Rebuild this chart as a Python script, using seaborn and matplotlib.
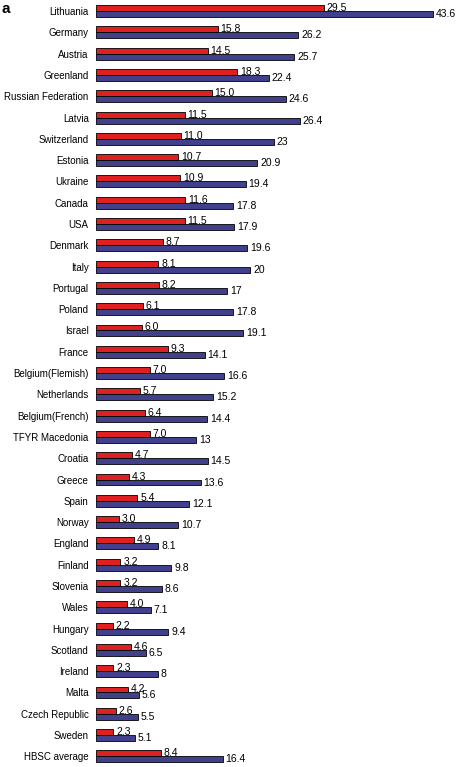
import numpy as np
import pandas as pd
import matplotlib
matplotlib.use("Agg")
import matplotlib.pyplot as plt
import seaborn as sns

countries = ["Lithuania", "Germany", "Austria", "Greenland", "Russian Federation", "Latvia",
             "Switzerland", "Estonia", "Ukraine", "Canada", "USA", "Denmark", "Italy",
             "Portugal", "Poland", "Israel", "France", "Belgium(Flemish)", "Netherlands",
             "Belgium(French)", "TFYR Macedonia", "Croatia", "Greece", "Spain", "Norway",
             "England", "Finland", "Slovenia", "Wales", "Hungary", "Scotland", "Ireland",
             "Malta", "Czech Republic", "Sweden", "HBSC average"]
red_vals = [29.5, 15.8, 14.5, 18.3, 15.0, 11.5, 11.0, 10.7, 10.9, 11.6, 11.5, 8.7, 8.1,
            8.2, 6.1, 6.0, 9.3, 7.0, 5.7, 6.4, 7.0, 4.7, 4.3, 5.4, 3.0, 4.9, 3.2, 3.2,
            4.0, 2.2, 4.6, 2.3, 4.2, 2.6, 2.3, 8.4]
blue_vals = [43.6, 26.2, 25.7, 22.4, 24.6, 26.4, 23, 20.9, 19.4, 17.8, 17.9, 19.6, 20,
             17, 17.8, 19.1, 14.1, 16.6, 15.2, 14.4, 13, 14.5, 13.6, 12.1, 10.7, 8.1,
             9.8, 8.6, 7.1, 9.4, 6.5, 8, 5.6, 5.5, 5.1, 16.4]

df = pd.DataFrame({
    "country": countries * 2,
    "value": red_vals + blue_vals,
    "series": ["s1"] * len(countries) + ["s2"] * len(countries),
})

plt.rcParams["font.family"] = ["Liberation Sans", "DejaVu Sans"]

fig = plt.figure(figsize=(4.6, 7.67), dpi=100)
ax = fig.add_axes([0.208, 0.0, 0.792, 1.0])

sns.barplot(data=df, x="value", y="country", hue="series", order=countries,
            hue_order=["s1", "s2"], palette=["#ff0000", "#333399"], orient="h",
            width=0.56, edgecolor="black", linewidth=0.6, legend=False, ax=ax)

ax.bar_label(ax.containers[0], fmt="%.1f", padding=2, fontsize=7.5)
ax.bar_label(ax.containers[1], fmt="%g", padding=2, fontsize=7.5)

ax.set_xlim(0, 47.1)
ax.set_ylim(35.5, -0.52)
ax.set_xlabel("")
ax.set_ylabel("")
ax.set_xticks([])
ax.tick_params(axis="y", length=0, pad=5, labelsize=7)
for s in ax.spines.values():
    s.set_visible(False)

fig.text(0.004, 0.998, "a", fontsize=11, fontweight="bold", va="top", ha="left")

fig.savefig("out.png", dpi=100)
